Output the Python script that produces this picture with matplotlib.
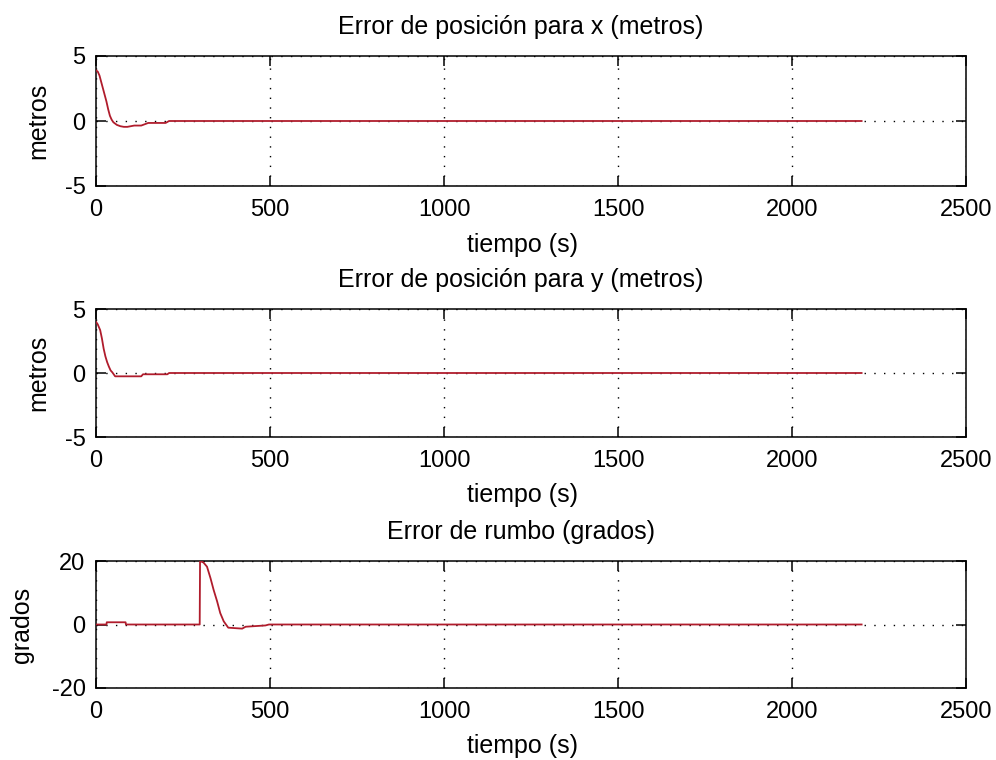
import matplotlib
matplotlib.use("Agg")
import matplotlib.pyplot as plt

plt.rcParams['font.family'] = ['Liberation Sans', 'DejaVu Sans']

# ---- data ----
t_x = [0, 5, 10, 15, 20, 25, 30, 35, 40, 45, 50, 60, 70, 80, 90, 100, 110, 130, 140, 150, 200, 210, 2200]
e_x = [3.9, 3.8, 3.5, 3.0, 2.5, 2.0, 1.5, 0.9, 0.4, 0.1, -0.1, -0.3, -0.4, -0.45, -0.45, -0.4, -0.35, -0.35, -0.25, -0.15, -0.15, 0.0, 0.0]

t_y = [0, 5, 12, 17, 22, 27, 32, 37, 42, 47, 55, 130, 135, 205, 210, 2200]
e_y = [4.0, 3.8, 3.35, 2.7, 1.9, 1.3, 0.85, 0.5, 0.2, 0.05, -0.26, -0.26, -0.1, -0.1, 0.0, 0.0]

t_r = [0, 30, 31, 85, 86, 298, 299, 309, 319, 329, 338, 348, 357, 367, 380, 420, 430, 487, 497, 2200]
e_r = [0, 0, 0.7, 0.7, 0, 0, 20, 19.5, 18.2, 14.6, 10.9, 7.3, 3.6, 1.0, -1.0, -1.3, -0.7, -0.3, 0.0, 0.0]

titles = ['Error de posición para x (metros)',
          'Error de posición para y (metros)',
          'Error de rumbo (grados)']
ylabels = ['metros', 'metros', 'grados']
xlabel = 'tiempo (s)'
xticks = [0, 500, 1000, 1500, 2000, 2500]
yticks_list = [[-5, 0, 5], [-5, 0, 5], [-20, 0, 20]]

series = [(t_x, e_x), (t_y, e_y), (t_r, e_r)]

W, H = 996, 760
fig = plt.figure(figsize=(W / 100, H / 100), dpi=100)

# axes boxes in pixels: (left, top, right, bottom)
boxes = [(96, 56, 966, 186), (96, 309, 966, 437), (96, 561, 966, 688)]
ylabel_x = [50, 50, 34]

fs_text = 18
fs_tick = 17
line_color = '#b01c2c'

for i, (box, (tt, vv)) in enumerate(zip(boxes, series)):
    l, t, r, b = box
    w = r - l
    ax = fig.add_axes([l / W, 1 - b / H, w / W, (b - t) / H])
    ax.plot(tt, vv, color=line_color, lw=1.3, zorder=3)
    ax.set_xlim(0, 2500)
    yt = yticks_list[i]
    ax.set_ylim(yt[0], yt[-1])
    ax.set_xticks(xticks)
    ax.set_yticks(yt)
    ax.set_xticklabels([str(v) for v in xticks])
    ax.set_yticklabels([str(v) for v in yt])
    ax.grid(True, color='black', linestyle=(0, (1, 6)), lw=1.0)
    ax.tick_params(direction='in', length=7, width=1.1, top=True, right=True,
                   labelsize=fs_tick)
    ax.tick_params(axis='x', pad=9.5)
    ax.tick_params(axis='y', pad=7.5)
    for s in ax.spines.values():
        s.set_linewidth(1.1)
    ax.set_title(titles[i], fontsize=fs_text, pad=15.5, x=0.488)
    ax.set_ylabel(ylabels[i], fontsize=fs_text)
    ax.yaxis.set_label_coords((ylabel_x[i] - l) / w, 0.5)
    ax.set_xlabel(xlabel, fontsize=fs_text, labelpad=6)
    ax.xaxis.set_label_coords(0.49, -0.36)

fig.savefig('out.png', dpi=100)
